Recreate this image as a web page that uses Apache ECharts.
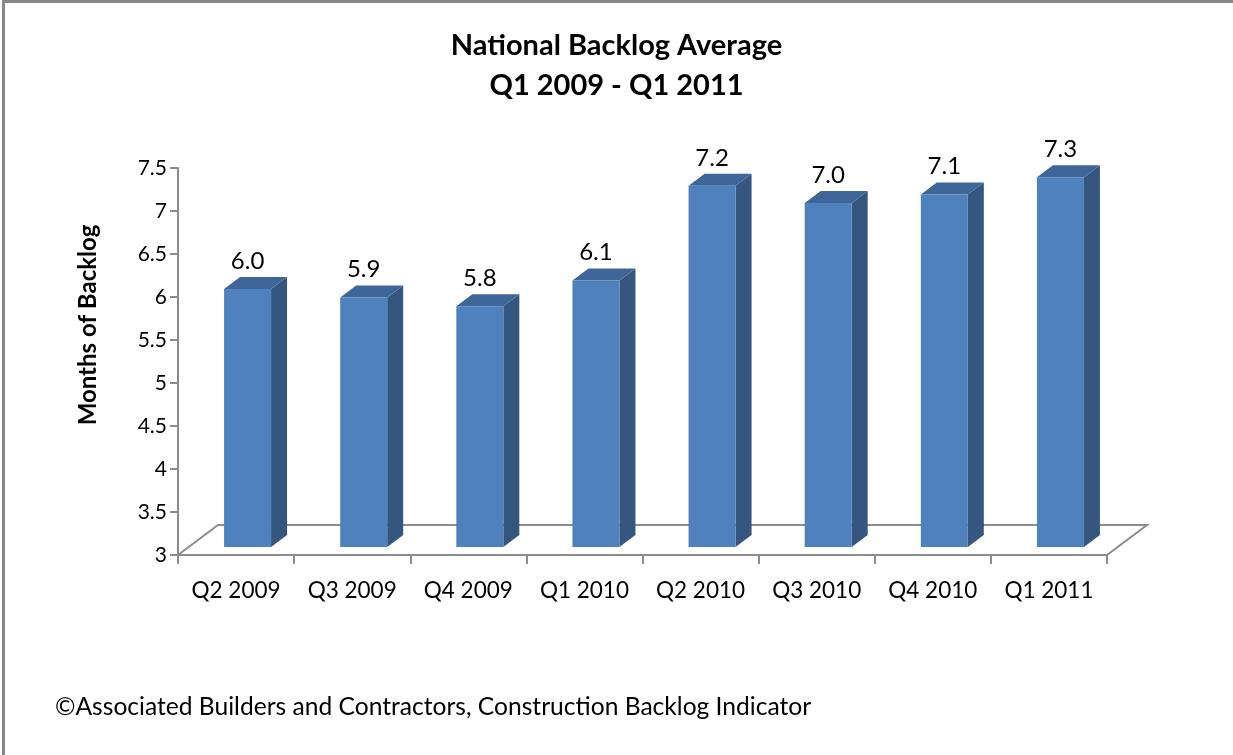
<!DOCTYPE html>
<html>
<head>
<meta charset="utf-8">
<script src="https://cdn.jsdelivr.net/npm/echarts@6/dist/echarts.min.js"></script>
<style>
html,body{margin:0;padding:0;background:#fff;}
#c{width:1233px;height:755px;}
</style>
</head>
<body>
<div id="c"></div>
<script>
const categories = ['Q2 2009','Q3 2009','Q4 2009','Q1 2010','Q2 2010','Q3 2010','Q4 2010','Q1 2011'];
const values = [6.0, 5.9, 5.8, 6.1, 7.2, 7.0, 7.1, 7.3];
const labels = ['6.0','5.9','5.8','6.1','7.2','7.0','7.1','7.3'];
const yMin = 3, yMax = 7.5, yStep = 0.5;

const FONT = 'Lato, "Open Sans", "Noto Sans", sans-serif';
const chart = echarts.init(document.getElementById('c'), null, {renderer:'canvas'});

// 3D style constants
const DX = 16, DY = -12, FRONT_W = 47, SHIFT = 11.5, LIFT = 8;
const FLOOR_DX = 40, FLOOR_DY = -30;

function floorItem(params, api) {
  const bw = api.size([1, 0])[0];
  const a = api.coord([0, yMin]);
  const b = api.coord([categories.length - 1, yMin]);
  const xl = a[0] - bw / 2, xr = b[0] + bw / 2, y = a[1];
  return {
    type: 'polyline',
    shape: { points: [[xl, y], [xl + FLOOR_DX, y + FLOOR_DY], [xr + FLOOR_DX, y + FLOOR_DY], [xr, y]] },
    style: { stroke: '#8c8c8c', lineWidth: 2, fill: null },
    z2: 0
  };
}

function barItem(params, api) {
  const i = api.value(0), v = api.value(1);
  const base = api.coord([i, yMin]);
  const top = api.coord([i, v]);
  const cx = base[0] + SHIFT;
  const x1 = cx - FRONT_W / 2, x2 = cx + FRONT_W / 2;
  const yb = base[1] - LIFT, yt = top[1] - LIFT;
  return {
    type: 'group',
    children: [
      { type: 'polygon', shape: { points: [[x2, yb], [x2 + DX, yb + DY], [x2 + DX, yt + DY], [x2, yt]] },
        style: { fill: '#34567f' } },
      { type: 'polygon', shape: { points: [[x1, yt], [x1 + DX, yt + DY], [x2 + DX, yt + DY], [x2, yt]] },
        style: { fill: '#3f6699' } },
      { type: 'rect', shape: { x: x1, y: yt, width: FRONT_W, height: yb - yt },
        style: { fill: '#4f81bd' } },
      { type: 'text', x: cx, y: yt + DY - 4,
        style: { text: labels[params.dataIndex], fill: '#000', font: '24px ' + FONT, align: 'center', verticalAlign: 'bottom' } }
    ]
  };
}

chart.setOption({
  backgroundColor: '#fff',
  animation: false,
  title: {
    text: 'National Backlog Average\nQ1 2009 - Q1 2011',
    left: 'center', top: 21,
    textStyle: { fontFamily: FONT, fontWeight: 'bold', fontSize: 29, color: '#000', lineHeight: 40 }
  },
  graphic: [
    { type: 'rect', shape: { x: 2, y: 0, width: 3, height: 755 }, style: { fill: '#888' } },
    { type: 'rect', shape: { x: 2, y: 0, width: 1231, height: 3 }, style: { fill: '#888' } },
    { type: 'text', x: 88, y: 325, rotation: Math.PI / 2,
      style: { text: 'Months of Backlog', fill: '#000', font: 'bold 24px ' + FONT, align: 'center', verticalAlign: 'middle' } },
    { type: 'text', left: 55, top: 695,
      style: { text: '\u00A9Associated Builders and Contractors, Construction Backlog Indicator', fill: '#000', font: '24.6px ' + FONT } }
  ],
  grid: { left: 178, right: 126, top: 168, bottom: 200, containLabel: false },
  xAxis: {
    type: 'category', data: categories, boundaryGap: true,
    axisLine: { lineStyle: { color: '#8c8c8c', width: 2 } },
    axisTick: { show: true, interval: 0, length: 9, lineStyle: { color: '#8c8c8c', width: 2 } },
    axisLabel: { interval: 0, color: '#000', fontSize: 22.5, fontFamily: FONT, margin: 24 }
  },
  yAxis: {
    type: 'value', min: yMin, max: yMax, interval: yStep,
    axisLine: { show: true, lineStyle: { color: '#8c8c8c', width: 2 } },
    axisTick: { show: true, length: 8, lineStyle: { color: '#8c8c8c', width: 2 } },
    splitLine: { show: false },
    axisLabel: { color: '#000', fontSize: 21, fontFamily: FONT, margin: 11 }
  },
  series: [
    { type: 'custom', renderItem: floorItem, data: [[0, yMin]], z: 1, clip: false, silent: true },
    { type: 'custom', renderItem: barItem, data: values.map((v, i) => [i, v]), z: 2, clip: false }
  ]
});
</script>
</body>
</html>
